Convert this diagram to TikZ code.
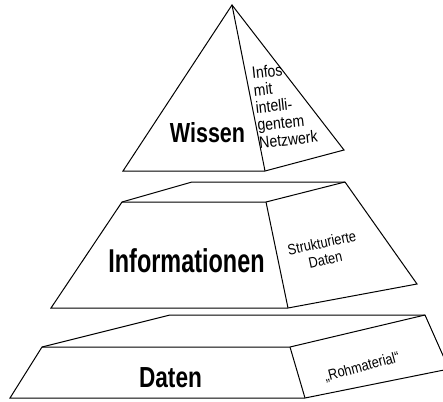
\documentclass[tikz,border=0pt]{standalone}
\usepackage{fontspec}
\usepackage{graphicx}
\setmainfont{Liberation Sans}
\newfontfamily\nbA[FakeStretch=0.78]{Liberation Sans Bold}
\newfontfamily\nbB[FakeStretch=0.71]{Liberation Sans Bold}
\begin{document}
\begin{tikzpicture}[x=1pt,y=-1pt,
  edge/.style={line width=1pt, line join=miter, draw=black},
  bigtxt/.style={inner sep=0pt, anchor=base},
  smalltxt/.style={inner sep=0pt}]
\useasboundingbox (0,0) rectangle (443,401);
\clip (0,0) rectangle (443,401);
% pyramid
\coordinate (A) at (232,5);
\coordinate (PL) at (123,171);
\coordinate (PR) at (265,171);
\coordinate (PB) at (344,150);
% middle frustum
\coordinate (MTL) at (192,182);
\coordinate (MTR) at (345,182);
\coordinate (MFL) at (122,202);
\coordinate (MFR) at (266,202);
\coordinate (MBL) at (51,308);
\coordinate (MBR) at (288,308);
\coordinate (MBB) at (417,284);
% bottom frustum
\coordinate (BTL) at (170,315);
\coordinate (BTR) at (425,315);
\coordinate (BFL) at (42,347);
\coordinate (BFR) at (290,347);
\coordinate (BBL) at (10,398);
\coordinate (BBR) at (305,398);
\coordinate (BBB) at (449,369);

\draw[edge] (A) -- (PL) -- (PR) -- (PB) -- cycle;
\draw[edge] (A) -- (PR);

\draw[edge] (MFL) -- (MTL) -- (MTR) -- (MBB) -- (MBR) -- (MBL) -- cycle;
\draw[edge] (MFL) -- (MFR) -- (MTR);
\draw[edge] (MFR) -- (MBR);

\draw[edge] (BFL) -- (BTL) -- (BTR) -- (BBB) -- (BBR) -- (BBL) -- cycle;
\draw[edge] (BFL) -- (BFR) -- (BTR);
\draw[edge] (BFR) -- (BBR);

\node[bigtxt, font=\nbA\fontsize{27.6}{30}\selectfont] (wissen) at (207.5,142) {Wissen};
\node[bigtxt, font=\nbB\fontsize{33}{36}\selectfont] (info) at (186.5,272) {Informationen};
\node[bigtxt, font=\nbA\fontsize{29}{32}\selectfont] (daten) at (170.5,387) {Daten};

\node[smalltxt, font=\fontsize{16.5}{17.5}\selectfont, rotate=6] (infos) at (285,107)
  {\scalebox{0.85}[1]{\begin{tabular}{@{}l@{}}Infos\\mit\\intelli-\\gentem\\Netzwerk\end{tabular}}};
\node[smalltxt, font=\fontsize{15}{17}\selectfont, rotate=12] (strukt) at (324,253)
  {\scalebox{0.85}[1]{\begin{tabular}{@{}c@{}}Strukturierte\\Daten\end{tabular}}};
\node[smalltxt, font=\fontsize{15}{17}\selectfont, rotate=15] (roh) at (362,367)
  {\scalebox{0.85}[1]{„Rohmaterial“}};
\end{tikzpicture}
\end{document}
